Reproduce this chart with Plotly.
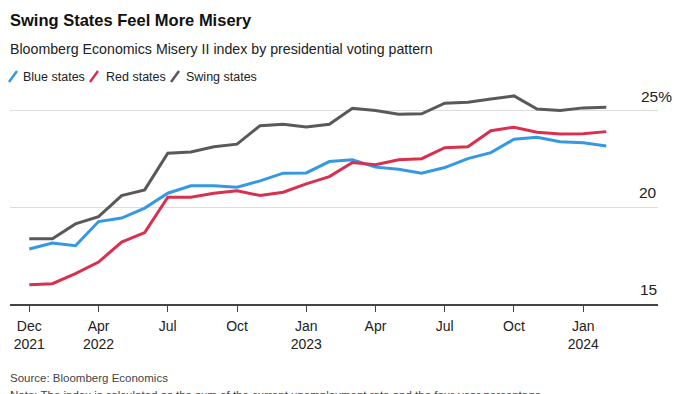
import plotly.graph_objects as go

# ---- data ----
month_index = list(range(26))
tick_positions = [0, 3, 6, 9, 12, 15, 18, 21, 24]
tick_labels = ["Dec<br>2021", "Apr<br>2022", "Jul<br> ", "Oct<br> ", "Jan<br>2023",
               "Apr<br> ", "Jul<br> ", "Oct<br> ", "Jan<br>2024"]

blue_states = [17.85, 18.16, 18.02, 19.27, 19.45, 19.97, 20.74, 21.12, 21.12, 21.05,
               21.38, 21.78, 21.79, 22.38, 22.47, 22.09, 21.98, 21.78, 22.07, 22.53,
               22.84, 23.54, 23.64, 23.41, 23.35, 23.19]
red_states = [16.00, 16.05, 16.57, 17.17, 18.21, 18.70, 20.53, 20.53, 20.74, 20.86,
              20.62, 20.79, 21.22, 21.60, 22.33, 22.21, 22.47, 22.53, 23.10, 23.15,
              23.98, 24.16, 23.90, 23.81, 23.82, 23.93]
swing_states = [18.38, 18.38, 19.15, 19.53, 20.62, 20.91, 22.81, 22.88, 23.15, 23.28,
                24.24, 24.31, 24.17, 24.31, 25.14, 25.02, 24.83, 24.85, 25.40, 25.45,
                25.62, 25.78, 25.10, 25.02, 25.16, 25.19]
y_ticks = [15, 20, 25]
y_tick_text = ["15", "20", "25%"]

series = [("Blue states", blue_states, "#3598e3"),
          ("Red states", red_states, "#d9304f"),
          ("Swing states", swing_states, "#595959")]

# ---- layout geometry (pixels, in reference-window coordinates) ----
W, H = 700, 394
OFF = 8  # page body margin
PLOT_L, PLOT_R, PLOT_T, PLOT_B = 10, 658, 90, 304
ML = PLOT_L - OFF
MT = PLOT_T - OFF
MR = W - (PLOT_R - OFF)
MB = H - (PLOT_B - OFF)
PW, PH = PLOT_R - PLOT_L, PLOT_B - PLOT_T


def px(x):
    return (x - PLOT_L) / PW


def py(y):
    return (PLOT_B - y) / PH


FONT = "Liberation Sans, Arial, Helvetica, sans-serif"

fig = go.Figure()
for name, vals, color in series:
    fig.add_trace(go.Scatter(x=month_index, y=vals, mode="lines", name=name,
                             line=dict(color=color, width=3), showlegend=False))

annotations = []
shapes = []


def label(text, x, y, size, color="#222222", anchor="left"):
    annotations.append(dict(text=text, x=px(x), y=py(y), xref="paper", yref="paper",
                            xanchor=anchor, yanchor="middle", showarrow=False,
                            borderpad=0, font=dict(family=FONT, size=size, color=color)))


# title / subtitle
label("<b>Swing States Feel More Misery</b>", 9, 20, 16.5, "#111111")
label("Bloomberg Economics Misery II index by presidential voting pattern", 9, 49, 14.2)

# legend
legend_items = [("Blue states", "#3598e3", 9, 22),
                ("Red states", "#d9304f", 90, 105),
                ("Swing states", "#595959", 171, 185)]
for text, color, ix, tx in legend_items:
    shapes.append(dict(type="line", xref="paper", yref="paper",
                       x0=px(ix), y0=py(82), x1=px(ix + 8), y1=py(71),
                       line=dict(color=color, width=2.5)))
    label(text, tx, 77, 12.5)

# y labels (above gridlines, right side)
for v, t in zip(y_ticks, y_tick_text):
    common = dict(y=v, xref="paper", yref="y", yanchor="middle", yshift=14.5,
                  showarrow=False, borderpad=0,
                  font=dict(family=FONT, size=15.5, color="#222222"))
    if t.endswith("%"):
        annotations.append(dict(text=t, x=px(640), xanchor="left", **common))
    else:
        annotations.append(dict(text=t, x=px(658), xanchor="right", **common))

# source / note
label("Source: Bloomberg Economics", 9, 378, 11.5, "#444444")
label("Note: The index is calculated as the sum of the current unemployment rate and the four-year percentage",
      9, 395, 11.5, "#444444")

x_left = 0 - (29.3 - PLOT_L) / 23.08
x_right = 25 + (PLOT_R - 606.3) / 23.08
y_top = 25 + (111 - PLOT_T) / 19.33

fig.update_layout(
    width=W, height=H,
    margin=dict(l=ML, r=MR, t=MT, b=MB, autoexpand=False),
    paper_bgcolor="white", plot_bgcolor="white",
    annotations=annotations, shapes=shapes,
    xaxis=dict(range=[x_left, x_right], tickmode="array", tickvals=tick_positions,
               ticktext=tick_labels, showgrid=False, zeroline=False,
               showline=True, linecolor="#444444", linewidth=2,
               ticks="outside", ticklen=6, tickwidth=1, tickcolor="#444444",
               ticklabelstandoff=2,
               tickfont=dict(family=FONT, size=14, color="#222222")),
    yaxis=dict(range=[15, y_top], tickmode="array", tickvals=[20, 25],
               showticklabels=False, showgrid=True, gridcolor="#dddddd", gridwidth=1,
               zeroline=False, showline=False),
)

fig.write_html("out.html")
